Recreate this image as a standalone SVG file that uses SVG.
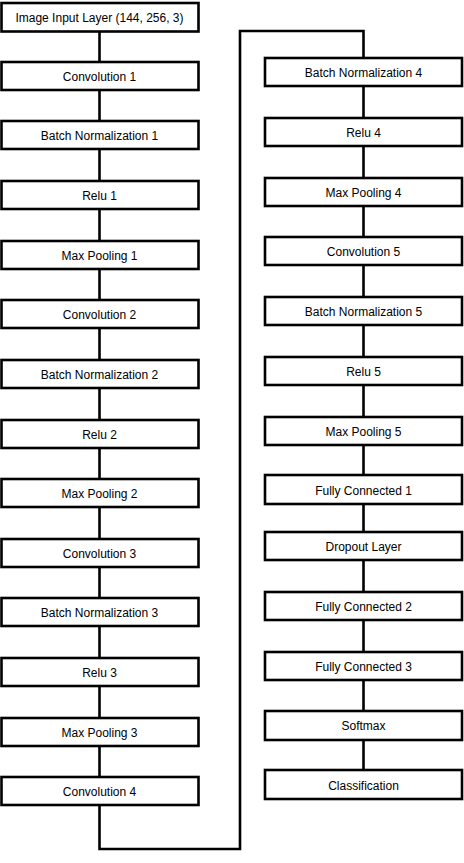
<svg xmlns="http://www.w3.org/2000/svg" width="464" height="863" viewBox="0 0 464 863">
<style>
.b rect{fill:#fff;stroke:#000;stroke-width:2.6}
.b text{font-family:"Liberation Sans",Arial,sans-serif;font-size:12px;fill:#000;text-anchor:middle;dominant-baseline:central}
.c{fill:none;stroke:#000;stroke-width:2.6}
</style>
<rect width="464" height="863" fill="#fff"/>
<g id="connectors" class="c">
<path d="M99.5 17V791"/>
<path d="M99.5 805V849H240V31H363.5V72"/>
<path d="M363.5 72V785"/>
</g>
<g class="b">
<g id="n1"><rect x="1.5" y="3" width="197" height="28.5"/><text x="99.5" y="17.5">Image Input Layer (144, 256, 3)</text></g>
<g id="n2"><rect x="1.5" y="62" width="197" height="28"/><text x="99.5" y="76.5">Convolution 1</text></g>
<g id="n3"><rect x="1.5" y="121" width="197" height="28"/><text x="99.5" y="135.5">Batch Normalization 1</text></g>
<g id="n4"><rect x="1.5" y="181" width="197" height="28"/><text x="99.5" y="195.5">Relu 1</text></g>
<g id="n5"><rect x="1.5" y="241" width="197" height="28"/><text x="99.5" y="255.5">Max Pooling 1</text></g>
<g id="n6"><rect x="1.5" y="300" width="197" height="28"/><text x="99.5" y="314.5">Convolution 2</text></g>
<g id="n7"><rect x="1.5" y="360" width="197" height="28"/><text x="99.5" y="374.5">Batch Normalization 2</text></g>
<g id="n8"><rect x="1.5" y="420" width="197" height="28"/><text x="99.5" y="434.5">Relu 2</text></g>
<g id="n9"><rect x="1.5" y="479" width="197" height="28"/><text x="99.5" y="493.5">Max Pooling 2</text></g>
<g id="n10"><rect x="1.5" y="539" width="197" height="28"/><text x="99.5" y="553.5">Convolution 3</text></g>
<g id="n11"><rect x="1.5" y="598" width="197" height="28"/><text x="99.5" y="612.5">Batch Normalization 3</text></g>
<g id="n12"><rect x="1.5" y="658" width="197" height="28"/><text x="99.5" y="672.5">Relu 3</text></g>
<g id="n13"><rect x="1.5" y="718" width="197" height="28"/><text x="99.5" y="732.5">Max Pooling 3</text></g>
<g id="n14"><rect x="1.5" y="777" width="197" height="28"/><text x="99.5" y="791.5">Convolution 4</text></g>
<g id="n15"><rect x="265" y="58" width="197" height="28"/><text x="363.5" y="72.5">Batch Normalization 4</text></g>
<g id="n16"><rect x="265" y="118" width="197" height="28"/><text x="363.5" y="132.5">Relu 4</text></g>
<g id="n17"><rect x="265" y="178" width="197" height="28"/><text x="363.5" y="192.5">Max Pooling 4</text></g>
<g id="n18"><rect x="265" y="237" width="197" height="28"/><text x="363.5" y="251.5">Convolution 5</text></g>
<g id="n19"><rect x="265" y="297" width="197" height="28"/><text x="363.5" y="311.5">Batch Normalization 5</text></g>
<g id="n20"><rect x="265" y="357" width="197" height="28"/><text x="363.5" y="371.5">Relu 5</text></g>
<g id="n21"><rect x="265" y="417" width="197" height="28"/><text x="363.5" y="431.5">Max Pooling 5</text></g>
<g id="n22"><rect x="265" y="475" width="197" height="29"/><text x="363.5" y="490.5">Fully Connected 1</text></g>
<g id="n23"><rect x="265" y="532" width="197" height="28"/><text x="363.5" y="546.5">Dropout Layer</text></g>
<g id="n24"><rect x="265" y="592" width="197" height="28"/><text x="363.5" y="606.5">Fully Connected 2</text></g>
<g id="n25"><rect x="265" y="652" width="197" height="28"/><text x="363.5" y="666.5">Fully Connected 3</text></g>
<g id="n26"><rect x="265" y="711" width="197" height="29"/><text x="363.5" y="725.5">Softmax</text></g>
<g id="n27"><rect x="265" y="770" width="197" height="29"/><text x="363.5" y="785.5">Classification</text></g>
</g>
</svg>
